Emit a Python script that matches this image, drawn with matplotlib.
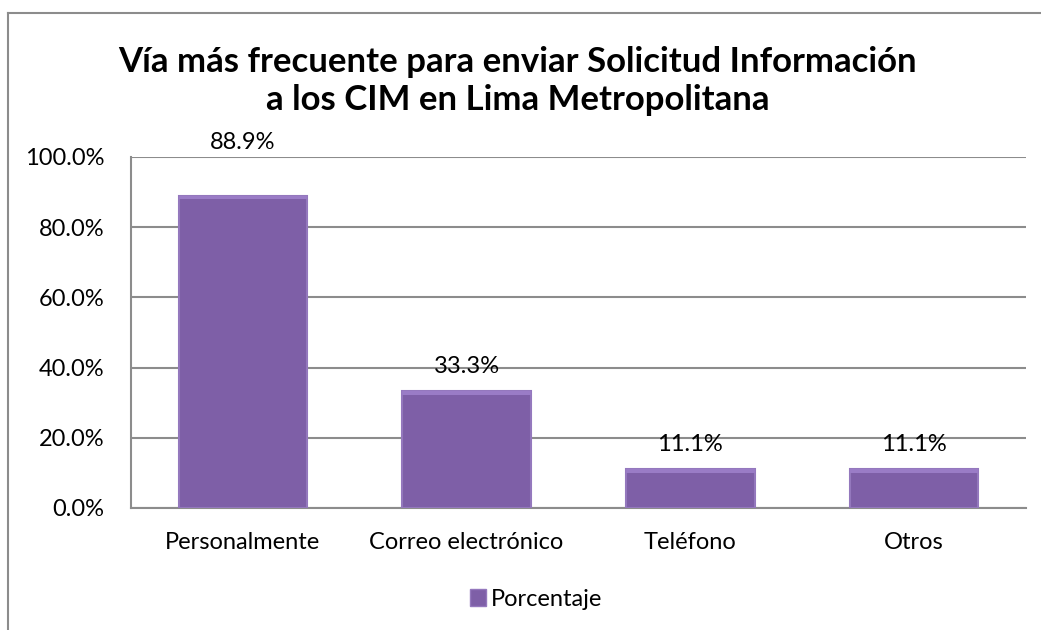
import matplotlib.pyplot as plt
from matplotlib.lines import Line2D
from matplotlib.patches import Patch

# data
categories = ['Personalmente', 'Correo electrónico', 'Teléfono', 'Otros']
porcentaje = [88.9, 33.3, 11.1, 11.1]
yticks = [0, 20, 40, 60, 80, 100]

plt.rcParams['font.family'] = ['Lato', 'DejaVu Sans']

fig = plt.figure(figsize=(10.41, 6.3), dpi=100)
ax = fig.add_axes([0.1258, 0.1937, 0.8598, 0.5571])

# chart outer border (left and top only visible)
fig.add_artist(Line2D([8 / 1041, 8 / 1041], [0, 1 - 13 / 630], color='#8c8c8c', lw=1.5,
                      transform=fig.transFigure))
fig.add_artist(Line2D([8 / 1041, 1], [1 - 13 / 630, 1 - 13 / 630], color='#8c8c8c', lw=1.5,
                      transform=fig.transFigure))

x = range(len(categories))
bars = ax.bar(x, porcentaje, width=0.575, color='#7E5FA7', edgecolor='#9478BD',
              linewidth=1.5, zorder=3)
# lighter top band for the bevel look
ax.bar(x, [1.0] * len(porcentaje), bottom=[v - 1.0 for v in porcentaje], width=0.575,
       color='#9A7CC6', linewidth=0, zorder=4)

label_offsets = [31, 10, 10, 10]
for xi, v, off in zip(x, porcentaje, label_offsets):
    ax.annotate(f'{v:.1f}%', (xi, v), xytext=(0, off), textcoords='offset points',
                ha='center', va='bottom', fontsize=17, color='#000000', annotation_clip=False)

ax.set_xlim(-0.5, len(categories) - 0.5)
ax.set_ylim(0, 100)
ax.set_yticks(yticks)
ax.set_yticklabels([f'{t:.1f}%' for t in yticks])
ax.set_xticks(list(x))
ax.set_xticklabels(categories)
ax.tick_params(axis='both', labelsize=17, length=0, colors='#000000')
ax.tick_params(axis='x', pad=17)
ax.tick_params(axis='y', pad=19)
ax.yaxis.grid(True, color='#8c8c8c', lw=1.5, zorder=0)
for side in ['top', 'right']:
    ax.spines[side].set_visible(False)
for side in ['left', 'bottom']:
    ax.spines[side].set_color('#8c8c8c')
    ax.spines[side].set_linewidth(1.5)

fig.text(0.497, 1 - 81 / 630,
         'Vía más frecuente para enviar Solicitud Información\na los CIM en Lima Metropolitana',
         ha='center', va='center', fontsize=25, fontweight='bold', linespacing=1.2)

ax.legend(handles=[Patch(facecolor='#7E5FA7', edgecolor='#9478BD', label='Porcentaje')],
          loc='center', bbox_to_anchor=(0.515, 1 - 599 / 630), bbox_transform=fig.transFigure,
          frameon=False, fontsize=17, handlelength=0.7, handleheight=0.7, handletextpad=0.2)

fig.savefig('out.png', dpi=100)
